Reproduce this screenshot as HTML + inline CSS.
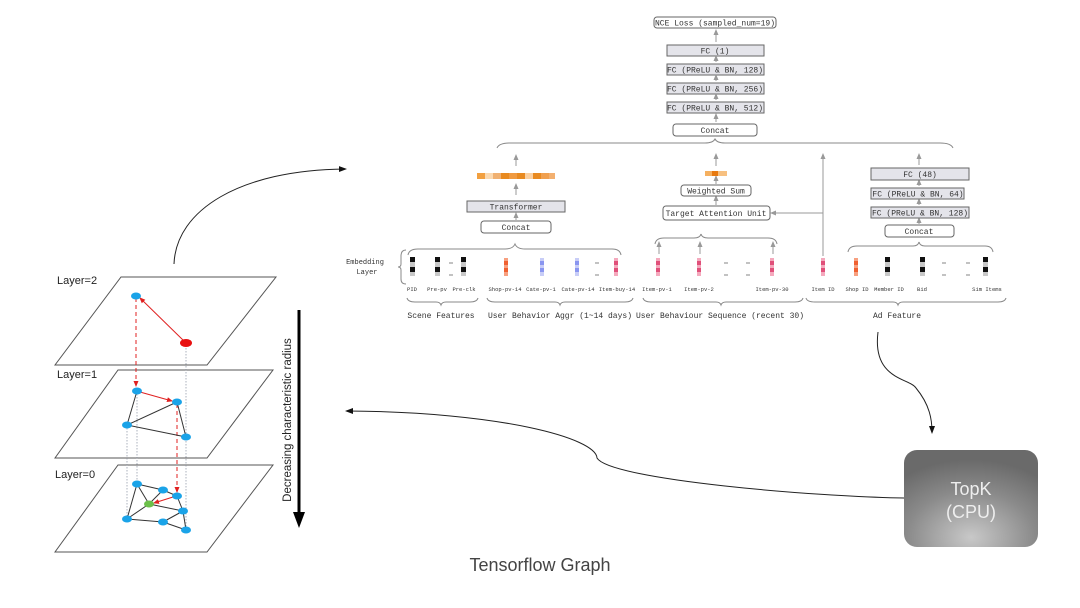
<!DOCTYPE html>
<html><head><meta charset="utf-8"><style>
html,body{margin:0;padding:0;background:#fff;}
svg{display:block}
.m{font-family:"Liberation Mono",monospace;fill:#333}
.s{font-family:"Liberation Sans",sans-serif}
</style></head><body>
<svg width="1080" height="608" viewBox="0 0 1080 608" xmlns="http://www.w3.org/2000/svg">
<defs>
<marker id="ga" markerWidth="6" markerHeight="6" refX="3" refY="3" orient="auto"><path d="M0,0.5 L6,3 L0,5.5z" fill="#999"/></marker>
<marker id="ba" markerWidth="8" markerHeight="8" refX="6" refY="4" orient="auto"><path d="M0,1 L8,4 L0,7z" fill="#111"/></marker>
<marker id="ra" markerWidth="6" markerHeight="6" refX="5" refY="3" orient="auto"><path d="M0,0.5 L6,3 L0,5.5z" fill="#e02020"/></marker>
<radialGradient id="tg" cx="0.5" cy="0.9" r="0.8"><stop offset="0" stop-color="#c8c8c8"/><stop offset="0.6" stop-color="#8a8a8a"/><stop offset="1" stop-color="#6a6a6a"/></radialGradient>
</defs>

<!-- top stack -->
<g stroke="#666" stroke-width="1">
<rect x="654" y="17" width="122" height="11" rx="3" fill="#fff"/>
<rect x="667" y="45" width="97" height="11" fill="#e4e4ea"/>
<rect x="667" y="64" width="97" height="11" fill="#e4e4ea"/>
<rect x="667" y="83" width="97" height="11" fill="#e4e4ea"/>
<rect x="667" y="102" width="97" height="11" fill="#e4e4ea"/>
<rect x="673" y="124" width="84" height="12" rx="3" fill="#fff"/>
</g>
<g class="m" font-size="8" text-anchor="middle">
<text x="715" y="25.5">NCE Loss (sampled_num=19)</text>
<text x="715" y="53.5">FC (1)</text>
<text x="715" y="72.5">FC (PReLU &amp; BN, 128)</text>
<text x="715" y="91.5">FC (PReLU &amp; BN, 256)</text>
<text x="715" y="110.5">FC (PReLU &amp; BN, 512)</text>
<text x="715" y="133">Concat</text>
</g>
<g stroke="#999" stroke-width="1" marker-end="url(#ga)">
<line x1="716" y1="42" x2="716" y2="32"/>
<line x1="716" y1="62" x2="716" y2="58"/>
<line x1="716" y1="81" x2="716" y2="77"/>
<line x1="716" y1="100" x2="716" y2="96"/>
<line x1="716" y1="122" x2="716" y2="116"/>
</g>
<path d="M497,148 Q499,143 510,143 L705,143 Q713,143 715,139 Q717,143 725,143 L940,143 Q951,143 953,148" fill="none" stroke="#888"/>

<!-- left branch -->
<g stroke="#999" marker-end="url(#ga)">
<line x1="516" y1="166" x2="516" y2="157"/>
<line x1="516" y1="195" x2="516" y2="186"/>
<line x1="516" y1="220" x2="516" y2="215"/>
</g>
<g>
<rect x="477" y="173" width="8" height="6" fill="#f2a040"/>
<rect x="485" y="173" width="8" height="6" fill="#fbd9b0"/>
<rect x="493" y="173" width="8" height="6" fill="#f0b070"/>
<rect x="501" y="173" width="8" height="6" fill="#e88a20"/>
<rect x="509" y="173" width="8" height="6" fill="#f09a40"/>
<rect x="517" y="173" width="8" height="6" fill="#e88a20"/>
<rect x="525" y="173" width="8" height="6" fill="#fbd0a0"/>
<rect x="533" y="173" width="8" height="6" fill="#e98a20"/>
<rect x="541" y="173" width="8" height="6" fill="#f0a050"/>
<rect x="549" y="173" width="6" height="6" fill="#f3b070"/>
</g>
<rect x="467" y="201" width="98" height="11" fill="#e4e4ea" stroke="#666"/>
<rect x="481" y="221" width="70" height="12" rx="3" fill="#fff" stroke="#666"/>
<g class="m" font-size="8" text-anchor="middle">
<text x="516" y="209.5">Transformer</text>
<text x="516" y="230">Concat</text>
</g>
<path d="M408,255 Q409,249 418,249 L505,249 Q513,249 515,244 Q517,249 525,249 L612,249 Q620,249 621,255" fill="none" stroke="#888"/>
<path d="M406,250 Q401,250 401,256 L401,264 Q401,267 398,267 Q401,267 401,270 L401,279 Q401,284 406,284" fill="none" stroke="#888"/>
<g class="m" font-size="7" text-anchor="middle" fill="#444">
<text x="365" y="264">Embedding</text>
<text x="367" y="274">Layer</text>
</g>

<!-- embedding blocks -->
<g id="blk">
</g>
<g>
<!-- black blocks: x positions -->
<g fill="#111"><rect x="410" y="257" width="5" height="5"/><rect x="410" y="267" width="5" height="5"/>
<rect x="435" y="257" width="5" height="5"/><rect x="435" y="267" width="5" height="5"/>
<rect x="461" y="257" width="5" height="5"/><rect x="461" y="267" width="5" height="5"/>
<rect x="885" y="257" width="5" height="5"/><rect x="885" y="267" width="5" height="5"/>
<rect x="920" y="257" width="5" height="5"/><rect x="920" y="267" width="5" height="5"/>
<rect x="983" y="257" width="5" height="5"/><rect x="983" y="267" width="5" height="5"/></g>
<g fill="#c8c8c8"><rect x="410" y="262" width="5" height="5"/><rect x="410" y="272" width="5" height="4"/>
<rect x="435" y="262" width="5" height="5"/><rect x="435" y="272" width="5" height="4"/>
<rect x="461" y="262" width="5" height="5"/><rect x="461" y="272" width="5" height="4"/>
<rect x="885" y="262" width="5" height="5"/><rect x="885" y="272" width="5" height="4"/>
<rect x="920" y="262" width="5" height="5"/><rect x="920" y="272" width="5" height="4"/>
<rect x="983" y="262" width="5" height="5"/><rect x="983" y="272" width="5" height="4"/></g>
<!-- orange -->
<g><rect x="504" y="258" width="4" height="18" fill="#f7a080"/><rect x="504" y="261" width="4" height="4" fill="#f06030"/><rect x="504" y="268" width="4" height="4" fill="#f06030"/>
<rect x="854" y="258" width="4" height="18" fill="#f7a080"/><rect x="854" y="261" width="4" height="4" fill="#f06030"/><rect x="854" y="268" width="4" height="4" fill="#f06030"/></g>
<!-- blue -->
<g><rect x="540" y="258" width="4" height="18" fill="#c8cdf7"/><rect x="540" y="261" width="4" height="4" fill="#8a96f0"/><rect x="540" y="268" width="4" height="4" fill="#8a96f0"/>
<rect x="575" y="258" width="4" height="18" fill="#c8cdf7"/><rect x="575" y="261" width="4" height="4" fill="#8a96f0"/><rect x="575" y="268" width="4" height="4" fill="#8a96f0"/></g>
<!-- pink -->
<g fill="#f4a9bd">
<rect x="614" y="258" width="4" height="18"/><rect x="656" y="258" width="4" height="18"/><rect x="697" y="258" width="4" height="18"/><rect x="770" y="258" width="4" height="18"/><rect x="821" y="258" width="4" height="18"/></g>
<g fill="#e0507a">
<rect x="614" y="261" width="4" height="4"/><rect x="614" y="268" width="4" height="4"/>
<rect x="656" y="261" width="4" height="4"/><rect x="656" y="268" width="4" height="4"/>
<rect x="697" y="261" width="4" height="4"/><rect x="697" y="268" width="4" height="4"/>
<rect x="770" y="261" width="4" height="4"/><rect x="770" y="268" width="4" height="4"/>
<rect x="821" y="261" width="4" height="4"/><rect x="821" y="268" width="4" height="4"/></g>
<!-- dashes -->
<g stroke="#666" stroke-width="0.8">
<line x1="449" y1="263" x2="453" y2="263"/><line x1="449" y1="275" x2="453" y2="275"/>
<line x1="595" y1="263" x2="599" y2="263"/><line x1="595" y1="275" x2="599" y2="275"/>
<line x1="724" y1="263" x2="728" y2="263"/><line x1="724" y1="275" x2="728" y2="275"/>
<line x1="746" y1="263" x2="750" y2="263"/><line x1="746" y1="275" x2="750" y2="275"/>
<line x1="942" y1="263" x2="946" y2="263"/><line x1="942" y1="275" x2="946" y2="275"/>
<line x1="966" y1="263" x2="970" y2="263"/><line x1="966" y1="275" x2="970" y2="275"/>
</g>
</g>
<g class="m" font-size="5.5" text-anchor="middle" fill="#444">
<text x="412" y="291">PID</text><text x="437" y="291">Pre-pv</text><text x="464" y="291">Pre-clk</text>
<text x="505" y="291">Shop-pv-14</text><text x="541" y="291">Cate-pv-1</text><text x="578" y="291">Cate-pv-14</text><text x="617" y="291">Item-buy-14</text>
<text x="657" y="291">Item-pv-1</text><text x="699" y="291">Item-pv-2</text><text x="772" y="291">Item-pv-30</text>
<text x="823" y="291">Item ID</text><text x="857" y="291">Shop ID</text><text x="889" y="291">Member ID</text><text x="922" y="291">Bid</text><text x="987" y="291">Sim Items</text>
</g>
<g fill="none" stroke="#888">
<path d="M407,298 Q408,302 415,302 L436,302 Q440,302 441,305 Q442,302 446,302 L470,302 Q477,302 478,298"/>
<path d="M487,298 Q488,302 495,302 L555,302 Q559,302 560,305 Q561,302 565,302 L625,302 Q632,302 633,298"/>
<path d="M643,298 Q644,302 651,302 L716,302 Q720,302 721,305 Q722,302 726,302 L795,302 Q802,302 803,298"/>
<path d="M806,298 Q807,302 815,302 L893,302 Q897,302 898,305 Q899,302 903,302 L998,302 Q1005,302 1006,298"/>
</g>
<g class="m" font-size="8" text-anchor="middle" fill="#333">
<text x="441" y="318">Scene Features</text>
<text x="560" y="318">User Behavior Aggr (1~14 days)</text>
<text x="720" y="318">User Behaviour Sequence (recent 30)</text>
<text x="897" y="318">Ad Feature</text>
</g>

<!-- middle branch -->
<path d="M655,244 Q656,238 664,238 L694,238 Q700,238 701,234 Q702,238 708,238 L768,238 Q776,238 777,244" fill="none" stroke="#888"/>
<g stroke="#999" marker-end="url(#ga)">
<line x1="659" y1="254" x2="659" y2="244"/>
<line x1="700" y1="254" x2="700" y2="244"/>
<line x1="773" y1="254" x2="773" y2="244"/>
<line x1="716" y1="166" x2="716" y2="156"/>
<line x1="716" y1="184" x2="716" y2="178"/>
<line x1="716" y1="205" x2="716" y2="198"/>
<line x1="823" y1="256" x2="823" y2="156"/>
<line x1="823" y1="213" x2="773" y2="213"/>
</g>
<rect x="705" y="171" width="7" height="5" fill="#f5b060"/><rect x="712" y="171" width="6" height="5" fill="#e87a10"/><rect x="718" y="171" width="9" height="5" fill="#f7c080"/>
<rect x="681" y="185" width="70" height="11" rx="3" fill="#fff" stroke="#666"/>
<rect x="663" y="206" width="107" height="14" rx="3" fill="#fff" stroke="#666"/>
<g class="m" font-size="8" text-anchor="middle">
<text x="716" y="193.5">Weighted Sum</text>
<text x="716" y="216">Target Attention Unit</text>
</g>

<!-- right branch -->
<g stroke="#999" marker-end="url(#ga)">
<line x1="919" y1="165" x2="919" y2="156"/>
<line x1="919" y1="186" x2="919" y2="182"/>
<line x1="919" y1="205" x2="919" y2="201"/>
<line x1="919" y1="224" x2="919" y2="220"/>
</g>
<g stroke="#666">
<rect x="871" y="168" width="98" height="12" fill="#e4e4ea"/>
<rect x="871" y="188" width="93" height="11" fill="#e4e4ea"/>
<rect x="871" y="207" width="98" height="11" fill="#e4e4ea"/>
<rect x="885" y="225" width="69" height="12" rx="3" fill="#fff"/>
</g>
<g class="m" font-size="8" text-anchor="middle">
<text x="920" y="177">FC (48)</text>
<text x="918" y="196.5">FC (PReLU &amp; BN, 64)</text>
<text x="920" y="215.5">FC (PReLU &amp; BN, 128)</text>
<text x="919" y="234">Concat</text>
</g>
<path d="M848,252 Q849,246 857,246 L913,246 Q918,246 919,242 Q920,246 925,246 L985,246 Q992,246 993,252" fill="none" stroke="#888"/>

<!-- curves -->
<path d="M174,264 C176,210 240,170 345,169" fill="none" stroke="#222" stroke-width="1" marker-end="url(#ba)"/>
<path d="M878,332 C872,380 910,378 916,388 C930,405 932,420 932,432" fill="none" stroke="#222" stroke-width="1" marker-end="url(#ba)"/>
<path d="M904,498 C820,497 610,480 597,458 C596,438 500,412 347,411" fill="none" stroke="#222" stroke-width="1" marker-end="url(#ba)"/>

<!-- TopK -->
<rect x="904" y="450" width="134" height="97" rx="13" fill="url(#tg)"/>
<g class="s" font-size="18" fill="#eee" text-anchor="middle">
<text x="971" y="495">TopK</text>
<text x="971" y="518">(CPU)</text>
</g>
<text x="540" y="571" class="s" font-size="18" fill="#444" text-anchor="middle">Tensorflow Graph</text>

<!-- left layers -->
<g fill="#fff" stroke="#555" stroke-width="1">
<path d="M121,277 L276,277 L207,365 L55,365 Z"/>
<path d="M118,370 L273,370 L207,458 L55,458 Z"/>
<path d="M118,465 L273,465 L207,552 L55,552 Z"/>
</g>
<g class="s" font-size="11" fill="#222">
<text x="57" y="284">Layer=2</text>
<text x="57" y="378">Layer=1</text>
<text x="55" y="478">Layer=0</text>
</g>
<!-- verticals -->
<g stroke="#8890a0" stroke-width="0.7" stroke-dasharray="1.5,1.5">
<line x1="186" y1="345" x2="186" y2="528"/>
<line x1="127" y1="425" x2="127" y2="518"/>
<line x1="137" y1="391" x2="137" y2="483"/>
</g>
<g stroke="#e02020" stroke-width="1" stroke-dasharray="4,3" fill="none">
<line x1="136" y1="298" x2="136" y2="386" marker-end="url(#ra)"/>
<line x1="177" y1="404" x2="177" y2="492" marker-end="url(#ra)"/>
</g>
<g stroke="#333" stroke-width="1">
<line x1="137" y1="391" x2="127" y2="425"/><line x1="127" y1="425" x2="177" y2="402"/>
<line x1="127" y1="425" x2="186" y2="437"/><line x1="177" y1="402" x2="186" y2="437"/>
<line x1="137" y1="484" x2="163" y2="490"/><line x1="163" y1="490" x2="177" y2="496"/>
<line x1="137" y1="484" x2="149" y2="504"/><line x1="137" y1="484" x2="127" y2="519"/>
<line x1="149" y1="504" x2="163" y2="490"/><line x1="149" y1="504" x2="127" y2="519"/>
<line x1="149" y1="504" x2="183" y2="511"/><line x1="177" y1="496" x2="183" y2="511"/>
<line x1="183" y1="511" x2="163" y2="522"/><line x1="127" y1="519" x2="163" y2="522"/>
<line x1="163" y1="522" x2="186" y2="530"/><line x1="183" y1="511" x2="186" y2="530"/>
</g>
<g stroke="#e02020" stroke-width="1">
<line x1="185" y1="342" x2="140" y2="298" marker-end="url(#ra)"/>
<line x1="140" y1="392" x2="172" y2="401" marker-end="url(#ra)"/>
<line x1="173" y1="497" x2="154" y2="503" marker-end="url(#ra)"/>
</g>
<g fill="#1aa3e8">
<ellipse cx="136" cy="296" rx="5" ry="3.5"/>
<ellipse cx="137" cy="391" rx="5" ry="3.5"/><ellipse cx="177" cy="402" rx="5" ry="3.5"/>
<ellipse cx="127" cy="425" rx="5" ry="3.5"/><ellipse cx="186" cy="437" rx="5" ry="3.5"/>
<ellipse cx="137" cy="484" rx="5" ry="3.5"/><ellipse cx="163" cy="490" rx="5" ry="3.5"/>
<ellipse cx="177" cy="496" rx="5" ry="3.5"/><ellipse cx="183" cy="511" rx="5" ry="3.5"/>
<ellipse cx="127" cy="519" rx="5" ry="3.5"/><ellipse cx="163" cy="522" rx="5" ry="3.5"/>
<ellipse cx="186" cy="530" rx="5" ry="3.5"/>
</g>
<ellipse cx="186" cy="343" rx="6" ry="4" fill="#e81010"/>
<ellipse cx="149" cy="504" rx="5" ry="3.5" fill="#6cc04a"/>

<!-- decreasing arrow -->
<line x1="299" y1="310" x2="299" y2="514" stroke="#000" stroke-width="3"/>
<path d="M293,512 L305,512 L299,528 Z" fill="#000"/>
<text transform="translate(291,420) rotate(-90)" class="s" font-size="11.5" fill="#222" text-anchor="middle">Decreasing characteristic radius</text>
</svg>
</body></html>
